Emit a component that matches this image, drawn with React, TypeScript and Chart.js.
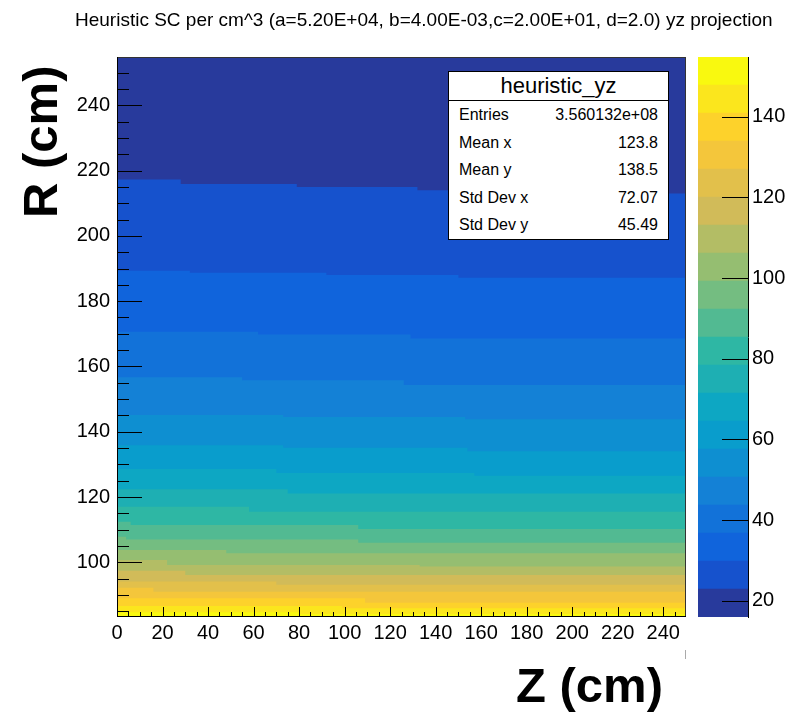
import React, { useEffect, useRef } from "react";
import { Chart, registerables } from "chart.js";

Chart.register(...registerables);

const FONT = "'Liberation Sans', Arial, Helvetica, sans-serif";

// ---------- text ----------
const titleText =
  "Heuristic SC per cm^3 (a=5.20E+04, b=4.00E-03,c=2.00E+01, d=2.0) yz projection";
const xTitle = "Z (cm)";
const yTitle = "R (cm)";

// ---------- axes ----------
const zRange = [0, 250];
const rRange = [83.25, 254.8];
const zTickLabels = [0, 20, 40, 60, 80, 100, 120, 140, 160, 180, 200, 220, 240];
const rTickLabels = [100, 120, 140, 160, 180, 200, 220, 240];
const colorTickLabels = [20, 40, 60, 80, 100, 120, 140];

// 20 colour bands -> 21 contour levels (SC per cm^3)
const contourLevels = [
  16.0, 22.94, 29.88, 36.82, 43.76, 50.7, 57.64, 64.58, 71.52, 78.46, 85.4,
  92.34, 99.28, 106.22, 113.16, 120.1, 127.04, 133.98, 140.92, 147.86, 154.8,
];

// ---------- contour boundaries: [Z start (cm), R (cm)] steps ----------
const contour01 = [[0, 218.0], [28, 217.3], [79, 215.9], [132, 215.0], [195, 214.0], [243, 213.0]];
const contour02 = [[0, 191.0], [32, 189.3], [92, 188.7], [150, 188.0], [208, 187.2]];
const contour03 = [[0, 171.4], [62, 170.6], [129, 169.8], [194, 168.6]];
const contour04 = [[0, 157.7], [55, 156.7], [126, 155.8], [196, 154.3]];
const contour05 = [[0, 146.1], [73, 145.1], [153, 144.5], [181, 143.8]];
const contour06 = [[0, 136.4], [73, 135.9], [154, 135.1], [234, 134.0]];
const contour07 = [[0, 129.5], [70, 128.6], [157, 127.4], [242, 126.5]];
const contour08 = [[0, 123.2], [75, 122.4], [166, 121.1]];
const contour09 = [[0, 117.9], [58, 117.0], [153, 115.5]];
const contour10 = [[0, 113.2], [6, 112.4], [106, 111.4], [204, 110.2]];
const contour11 = [[0, 108.8], [4, 107.8], [106, 107.0], [210, 106.0]];
const contour12 = [[0, 104.8], [48, 103.8], [155, 102.8]];
const contour13 = [[0, 101.5], [22, 100.7], [133, 99.2], [242, 98.7]];
const contour14 = [[0, 98.5], [30, 97.4], [145, 96.1]];
const contour15 = [[0, 95.3], [70, 94.1], [188, 93.1]];
const contour16 = [[0, 93.1], [16, 92.2], [136, 91.0]];
const contour17 = [[0, 89.8], [109, 89.0], [232, 87.6]];
const contour18 = [[0, 87.6], [99, 86.6], [226, 85.9]];
const contour19 = [[0, 85.3], [80, 84.7], [180, 84.2]];

// ---------- stats box ----------
const statsName = "heuristic_yz";
const statsLabels = ["Entries", "Mean x", "Mean y", "Std Dev x", "Std Dev y"];
const statsValues = ["3.560132e+08", "123.8", "138.5", "72.07", "45.49"];

// ---------- palette (band 0 = lowest) ----------
const bandColors = [
  "rgb(40,58,156)", "rgb(22,82,205)", "rgb(16,100,220)", "rgb(18,114,217)",
  "rgb(20,129,214)", "rgb(14,143,209)", "rgb(9,157,204)", "rgb(13,167,195)",
  "rgb(30,175,179)", "rgb(46,183,164)", "rgb(82,186,146)", "rgb(116,189,129)",
  "rgb(149,190,113)", "rgb(179,189,101)", "rgb(209,187,89)", "rgb(226,192,75)",
  "rgb(244,198,59)", "rgb(253,210,43)", "rgb(251,230,29)", "rgb(249,249,15)",
];

const contours = [
  contour01, contour02, contour03, contour04, contour05, contour06, contour07,
  contour08, contour09, contour10, contour11, contour12, contour13, contour14,
  contour15, contour16, contour17, contour18, contour19,
];

function buildMainDatasets() {
  const ds: any[] = [];
  for (let k = contours.length; k >= 1; k--) {
    const pts = contours[k - 1];
    const data = pts.map(([z, r]) => ({ x: z, y: r }));
    data.push({ x: zRange[1], y: pts[pts.length - 1][1] });
    ds.push({
      label: "level " + contourLevels[k],
      data,
      backgroundColor: bandColors[k],
      borderColor: "rgba(0,0,0,0)",
      borderWidth: 0,
      pointRadius: 0,
      fill: "start",
      stepped: "after",
      tension: 0,
    });
  }
  ds.push({
    label: "level " + contourLevels[0],
    data: [
      { x: zRange[0], y: rRange[1] },
      { x: zRange[1], y: rRange[1] },
    ],
    backgroundColor: bandColors[0],
    borderColor: "rgba(0,0,0,0)",
    borderWidth: 0,
    pointRadius: 0,
    fill: "start",
    tension: 0,
  });
  return ds;
}

const line = (ctx: CanvasRenderingContext2D, x1: number, y1: number, x2: number, y2: number) => {
  ctx.beginPath();
  ctx.moveTo(x1, y1);
  ctx.lineTo(x2, y2);
  ctx.stroke();
};

const frameTicksPlugin = {
  id: "frameTicks",
  afterDatasetsDraw(chart: any) {
    const { ctx, chartArea: a } = chart;
    const xs = chart.scales.x;
    const ys = chart.scales.y;
    ctx.save();
    ctx.lineWidth = 1;
    ctx.strokeStyle = "#333";
    ctx.strokeRect(a.left + 0.5, a.top + 0.5, a.right - a.left - 1, a.bottom - a.top - 1);
    ctx.strokeStyle = "#000";
    line(ctx, a.left + 0.5, a.top, a.left + 0.5, a.bottom);
    line(ctx, a.left, a.bottom - 0.5, a.right, a.bottom - 0.5);
    // R axis ticks (inside)
    for (let v = 85; v < rRange[1]; v += 5) {
      const py = Math.round(ys.getPixelForValue(v)) + 0.5;
      const len = v % 20 === 0 ? 25 : 12;
      line(ctx, a.left, py, a.left + len, py);
    }
    // Z axis ticks (inside)
    for (let v = 0; v < zRange[1]; v += 5) {
      const px = Math.round(xs.getPixelForValue(v)) + 0.5;
      const len = v % 20 === 0 ? 10 : 5;
      line(ctx, px, a.bottom, px, a.bottom - len);
    }
    ctx.restore();
  },
};

const colorbarTicksPlugin = {
  id: "colorbarTicks",
  afterDatasetsDraw(chart: any) {
    const { ctx, chartArea: a } = chart;
    const ys = chart.scales.y;
    ctx.save();
    ctx.lineWidth = 1;
    ctx.strokeStyle = "#000";
    for (const v of colorTickLabels) {
      const py = Math.round(ys.getPixelForValue(v)) + 0.5;
      line(ctx, a.right - 26, py, a.right, py);
    }
    ctx.restore();
  },
};

const tickFont = { family: FONT, size: 20 };

export default function App() {
  const mainRef = useRef<HTMLCanvasElement>(null);
  const barRef = useRef<HTMLCanvasElement>(null);

  useEffect(() => {
    const main = new Chart(mainRef.current as HTMLCanvasElement, {
      type: "line",
      data: { datasets: buildMainDatasets() },
      options: {
        responsive: false,
        animation: false,
        events: [],
        layout: { padding: { top: 57, right: 107, bottom: 0, left: 0 } },
        plugins: { legend: { display: false }, tooltip: { enabled: false } },
        scales: {
          x: {
            type: "linear",
            min: zRange[0],
            max: zRange[1],
            grid: { display: false, drawTicks: false },
            border: { display: false },
            ticks: { color: "#000", font: tickFont, padding: 4, maxRotation: 0, autoSkip: false },
            afterBuildTicks: (s: any) => {
              s.ticks = zTickLabels.map((v) => ({ value: v }));
            },
            afterFit: (s: any) => {
              s.height = 95;
            },
          },
          y: {
            type: "linear",
            min: rRange[0],
            max: rRange[1],
            grid: { display: false, drawTicks: false },
            border: { display: false },
            ticks: { color: "#000", font: tickFont, padding: 7, autoSkip: false },
            afterBuildTicks: (s: any) => {
              s.ticks = rTickLabels.map((v) => ({ value: v }));
            },
            afterFit: (s: any) => {
              s.width = 117;
            },
          },
        },
      } as any,
      plugins: [frameTicksPlugin],
    });

    const bar = new Chart(barRef.current as HTMLCanvasElement, {
      type: "bar",
      data: {
        labels: ["palette"],
        datasets: bandColors.map((c, j) => ({
          label: "band " + j,
          data: [[contourLevels[j], contourLevels[j + 1]]],
          backgroundColor: c,
          borderWidth: 0,
          grouped: false,
          barPercentage: 1,
          categoryPercentage: 1,
        })) as any,
      },
      options: {
        responsive: false,
        animation: false,
        events: [],
        layout: { padding: { top: 57, right: 0, bottom: 95, left: 8 } },
        plugins: { legend: { display: false }, tooltip: { enabled: false } },
        scales: {
          x: { display: false },
          y: {
            position: "right",
            min: contourLevels[0],
            max: contourLevels[contourLevels.length - 1],
            grid: { display: false, drawTicks: false },
            border: { display: true, color: "#000", width: 1 },
            ticks: { color: "#000", font: tickFont, padding: 4, autoSkip: false },
            afterBuildTicks: (s: any) => {
              s.ticks = colorTickLabels.map((v) => ({ value: v }));
            },
            afterFit: (s: any) => {
              s.width = 45;
            },
          },
        },
      } as any,
      plugins: [colorbarTicksPlugin],
    });

    return () => {
      main.destroy();
      bar.destroy();
    };
  }, []);

  const rowTops = [34, 62, 89, 117, 144];

  return (
    <div
      style={{
        position: "fixed",
        left: 0,
        top: 0,
        width: 793,
        height: 712,
        background: "#fff",
        overflow: "hidden",
        fontFamily: FONT,
        color: "#000",
      }}
    >
      <canvas ref={mainRef} width={793} height={712} style={{ position: "absolute", left: 0, top: 0 }} />
      <canvas ref={barRef} width={103} height={712} style={{ position: "absolute", left: 690, top: 0 }} />

      <div style={{ position: "absolute", left: 75, top: 10, fontSize: 19, lineHeight: "19px", whiteSpace: "nowrap" }}>
        {titleText}
      </div>

      <div
        style={{
          position: "absolute",
          left: 16,
          top: 218,
          transformOrigin: "0 0",
          transform: "rotate(-90deg)",
          fontSize: 49,
          fontWeight: "bold",
          lineHeight: "49px",
          whiteSpace: "nowrap",
        }}
      >
        {yTitle}
      </div>

      <div
        style={{
          position: "absolute",
          left: 516,
          top: 661,
          fontSize: 49,
          fontWeight: "bold",
          lineHeight: "49px",
          whiteSpace: "nowrap",
        }}
      >
        {xTitle}
      </div>

      <div style={{ position: "absolute", left: 685, top: 650, width: 1, height: 9, background: "#aaa" }} />

      <div
        style={{
          position: "absolute",
          left: 448,
          top: 71,
          width: 221,
          height: 169,
          boxSizing: "border-box",
          border: "1px solid #000",
          background: "#fff",
        }}
      >
        <div
          style={{
            position: "absolute",
            left: 0,
            top: 0,
            width: "100%",
            height: 28,
            borderBottom: "1px solid #000",
            textAlign: "center",
            fontSize: 22,
            lineHeight: "27px",
          }}
        >
          {statsName}
        </div>
        {statsLabels.map((lab, i) => (
          <div
            key={lab}
            style={{
              position: "absolute",
              left: 10,
              right: 10,
              top: rowTops[i],
              height: 18,
              fontSize: 16,
              lineHeight: "18px",
              display: "flex",
              justifyContent: "space-between",
              whiteSpace: "nowrap",
            }}
          >
            <span>{lab}</span>
            <span>{statsValues[i]}</span>
          </div>
        ))}
      </div>
    </div>
  );
}
